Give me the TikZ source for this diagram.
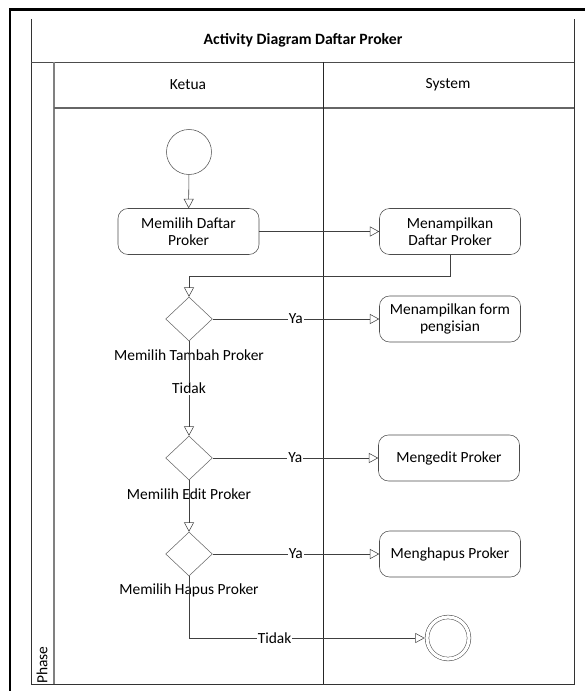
\documentclass[tikz,border=0pt]{standalone}
\usepackage{fontspec}
\setmainfont{Carlito}
\usetikzlibrary{arrows.meta,shapes.geometric}

\begin{document}
\begin{tikzpicture}[x=0.75pt,y=-0.75pt,
	font=\fontsize{11.6}{13}\selectfont,
	activity/.style={draw=black!70,rounded corners=7.5pt,align=center,minimum width=105.75pt,minimum height=34.5pt,inner sep=2pt},
	decision/.style={draw=black!60,shape=diamond,minimum width=35pt,minimum height=33pt,inner sep=0pt},
	flow/.style={draw=black!75,-{Triangle[open,length=7pt,width=7.5pt]}},
	guard/.style={fill=white,inner sep=0.8pt}]

	\useasboundingbox (0,0) rectangle (585,691);

	% frame and swimlanes
	\draw[line width=1.6pt] (10,691) -- (10,9.5) -- (585,9.5);
	\draw[black!80] (31,19) -- (31,684) -- (574,684) -- (574,19);
	\draw[black!70] (31,62) -- (574,62);
	\draw[black!50,line width=1.2pt] (54,62) -- (54,684);
	\draw[black!60,line width=1.1pt] (54,108) -- (574,108);
	\draw[black!85] (323,62) -- (323,684);

	\node[font=\fontsize{11.8}{13}\selectfont\bfseries] (title) at (303,40) {Activity Diagram Daftar Proker};
	\node (ketua) at (188,85) {Ketua};
	\node (system) at (448,85) {System};
	\node[rotate=90] (phase) at (42,665) {Phase};

	% activities
	\node[shape=circle,draw=black!70,minimum size=33.75pt,inner sep=0pt] (start) at (189,152) {};
	\node[activity] (daftar) at (188.5,231.5) {Memilih Daftar\\Proker};
	\node[activity] (tampil) at (450,231.5) {Menampilkan\\Daftar Proker};

	\node[decision] (tambah) at (189,319) {};
	\node (ltambah) at (189,355) {Memilih Tambah Proker};
	\node[activity] (form) at (450,319) {Menampilkan form\\pengisian};

	\node[decision] (edit) at (189,458) {};
	\node (ledit) at (189,494) {Memilih Edit Proker};
	\node[activity] (mengedit) at (449,458) {Mengedit Proker};

	\node[decision] (hapus) at (189,554) {};
	\node (lhapus) at (189,590) {Memilih Hapus Proker};
	\node[activity] (menghapus) at (450,554) {Menghapus Proker};

	\node[shape=circle,draw=black!70,double,double distance=2.4pt,minimum size=31.5pt,inner sep=0pt] (end) at (448,638) {};

	% flows
	\path[flow] (start) edge (daftar);
	\path[flow] (daftar) edge (tampil);
	\draw[flow] (tampil.south) -- ++(0,21) -| (tambah.north);
	\path[flow] (tambah) edge node[guard] {Ya} (form);
	\path[flow] (tambah) edge node[guard] {Tidak} (edit);
	\path[flow] (edit) edge node[guard] {Ya} (mengedit);
	\path[flow] (edit) edge (hapus);
	\path[flow] (hapus) edge node[guard] {Ya} (menghapus);
	\draw[flow,shorten >=1.6pt] (hapus.south) |- node[guard,pos=0.68] {Tidak} (end);

\end{tikzpicture}
\end{document}
